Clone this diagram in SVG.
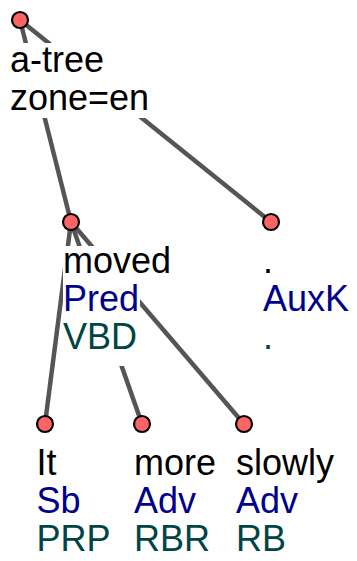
<svg xmlns="http://www.w3.org/2000/svg" width="357" height="561" viewBox="0 0 357 561">
<style>
text{font-family:"Liberation Sans",Arial,sans-serif;font-size:36px}
.f{fill:#000}.a{fill:#00008b}.t{fill:#004444}
.bg{fill:#fff}
.n{fill:#ff6464;stroke:#000;stroke-width:2.2}
.e{stroke:#555;stroke-width:4.5;fill:none}
</style>
<rect width="357" height="561" fill="#fff"/>
<g id="connectors">
<line class="e" x1="20" y1="20" x2="71" y2="222"/>
<line class="e" x1="20" y1="20" x2="271" y2="222"/>
<line class="e" x1="71" y1="222" x2="45" y2="424"/>
<line class="e" x1="71" y1="222" x2="142" y2="424"/>
<line class="e" x1="71" y1="222" x2="244" y2="424"/>
</g>
<g id="root">
<rect class="bg" x="10" y="43" width="95" height="38"/>
<rect class="bg" x="10" y="81" width="140" height="37"/>
<circle class="n" cx="20" cy="20" r="8"/>
<text x="10" y="72" class="f">a-tree</text>
<text x="10" y="110" class="f">zone=en</text>
</g>
<g id="moved">
<rect class="bg" x="63" y="246" width="109" height="38"/>
<rect class="bg" x="63" y="284" width="77" height="38"/>
<rect class="bg" x="63" y="322" width="74" height="44"/>
<circle class="n" cx="71" cy="222" r="8"/>
<text x="63" y="273" class="f">moved</text>
<text x="63" y="311" class="a">Pred</text>
<text x="63" y="349" class="t">VBD</text>
</g>
<g id="period">
<circle class="n" cx="271" cy="222" r="8"/>
<text x="263" y="273" class="f">.</text>
<text x="263" y="311" class="a">AuxK</text>
<text x="263" y="349" class="t">.</text>
</g>
<g id="it">
<circle class="n" cx="45" cy="424" r="8"/>
<text x="36.5" y="475" class="f">It</text>
<text x="36.5" y="513" class="a">Sb</text>
<text x="36.5" y="551" class="t">PRP</text>
</g>
<g id="more">
<circle class="n" cx="142" cy="424" r="8"/>
<text x="134" y="475" class="f">more</text>
<text x="134" y="513" class="a">Adv</text>
<text x="134" y="551" class="t">RBR</text>
</g>
<g id="slowly">
<circle class="n" cx="244" cy="424" r="8"/>
<text x="236" y="475" class="f">slowly</text>
<text x="236" y="513" class="a">Adv</text>
<text x="236" y="551" class="t">RB</text>
</g>
</svg>
